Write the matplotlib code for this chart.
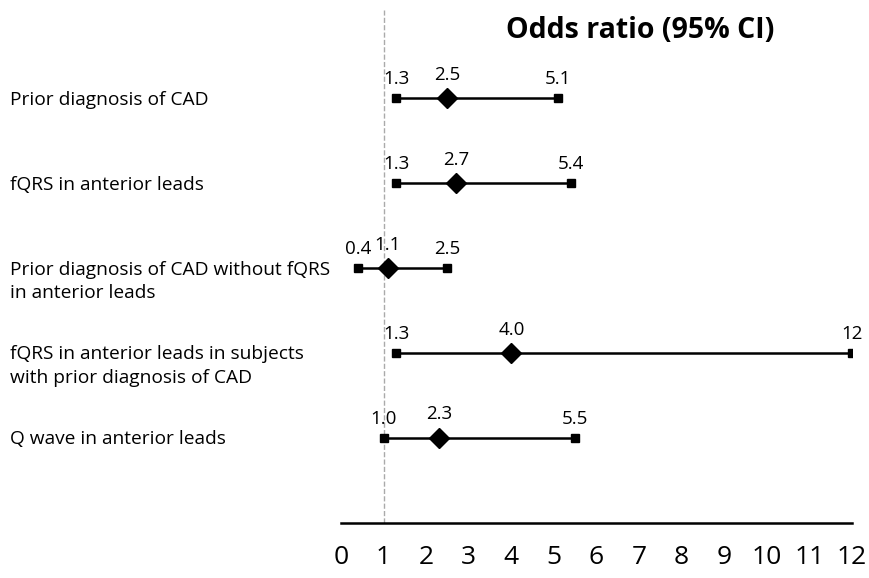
import numpy as np
import matplotlib.pyplot as plt

plt.rcParams['font.family'] = ['Open Sans', 'DejaVu Sans']

labels = [
    "Prior diagnosis of CAD",
    "fQRS in anterior leads",
    "Prior diagnosis of CAD without fQRS\nin anterior leads",
    "fQRS in anterior leads in subjects\nwith prior diagnosis of CAD",
    "Q wave in anterior leads",
]
odds = [2.5, 2.7, 1.1, 4.0, 2.3]
lower = [1.3, 1.3, 0.4, 1.3, 1.0]
upper = [5.1, 5.4, 2.5, 12, 5.5]
lower_txt = ["1.3", "1.3", "0.4", "1.3", "1.0"]
odds_txt = ["2.5", "2.7", "1.1", "4.0", "2.3"]
upper_txt = ["5.1", "5.4", "2.5", "12", "5.5"]
xticks = np.arange(0, 13)

fig = plt.figure(figsize=(8.69, 5.78), dpi=100)
ax = fig.add_axes([341 / 869, 55 / 578, 511 / 869, 513 / 578])

ys = np.arange(len(labels), 0, -1)

ax.axvline(1, color="#aaaaaa", ls="--", lw=1, zorder=1)
for y, lo, hi, o in zip(ys, lower, upper, odds):
    ax.plot([lo, hi], [y, y], color="black", lw=1.8, zorder=2)
    ax.plot([lo, hi], [y, y], ls="none", marker="s", ms=6, color="black", zorder=3)
    ax.plot(o, y, marker="D", ms=10, color="black", zorder=4)

for y, lo, hi, o, lt, ot, ut in zip(ys, lower, upper, odds, lower_txt, odds_txt, upper_txt):
    for xv, t, off in ((lo, lt, 14), (hi, ut, 14), (o, ot, 17)):
        ax.annotate(t, (xv, y), xytext=(0, off), textcoords="offset points",
                    ha="center", va="center", fontsize=13.5)

for y, lab in zip(ys, labels):
    ax.annotate(lab, xy=(10 / 869, y), xycoords=(fig.transFigure, ax.transData),
                xytext=(0, 5.5), textcoords="offset points",
                ha="left", va="top", fontsize=13.8, linespacing=1.42)

ax.set_xlim(0, 12)
ax.set_ylim(0, 6.04)
ax.set_xticks(xticks)
ax.set_xticklabels([str(t) for t in xticks], fontsize=19)
ax.tick_params(axis="x", length=0, pad=16)
ax.set_yticks([])
for s in ("top", "right", "left"):
    ax.spines[s].set_visible(False)
ax.spines["bottom"].set_linewidth(1.8)

fig.text(640 / 869, 1 - 30 / 578, "Odds ratio (95% CI)", ha="center", va="center",
         fontsize=20.5, fontweight="bold")

fig.savefig("out.png", facecolor="white")
